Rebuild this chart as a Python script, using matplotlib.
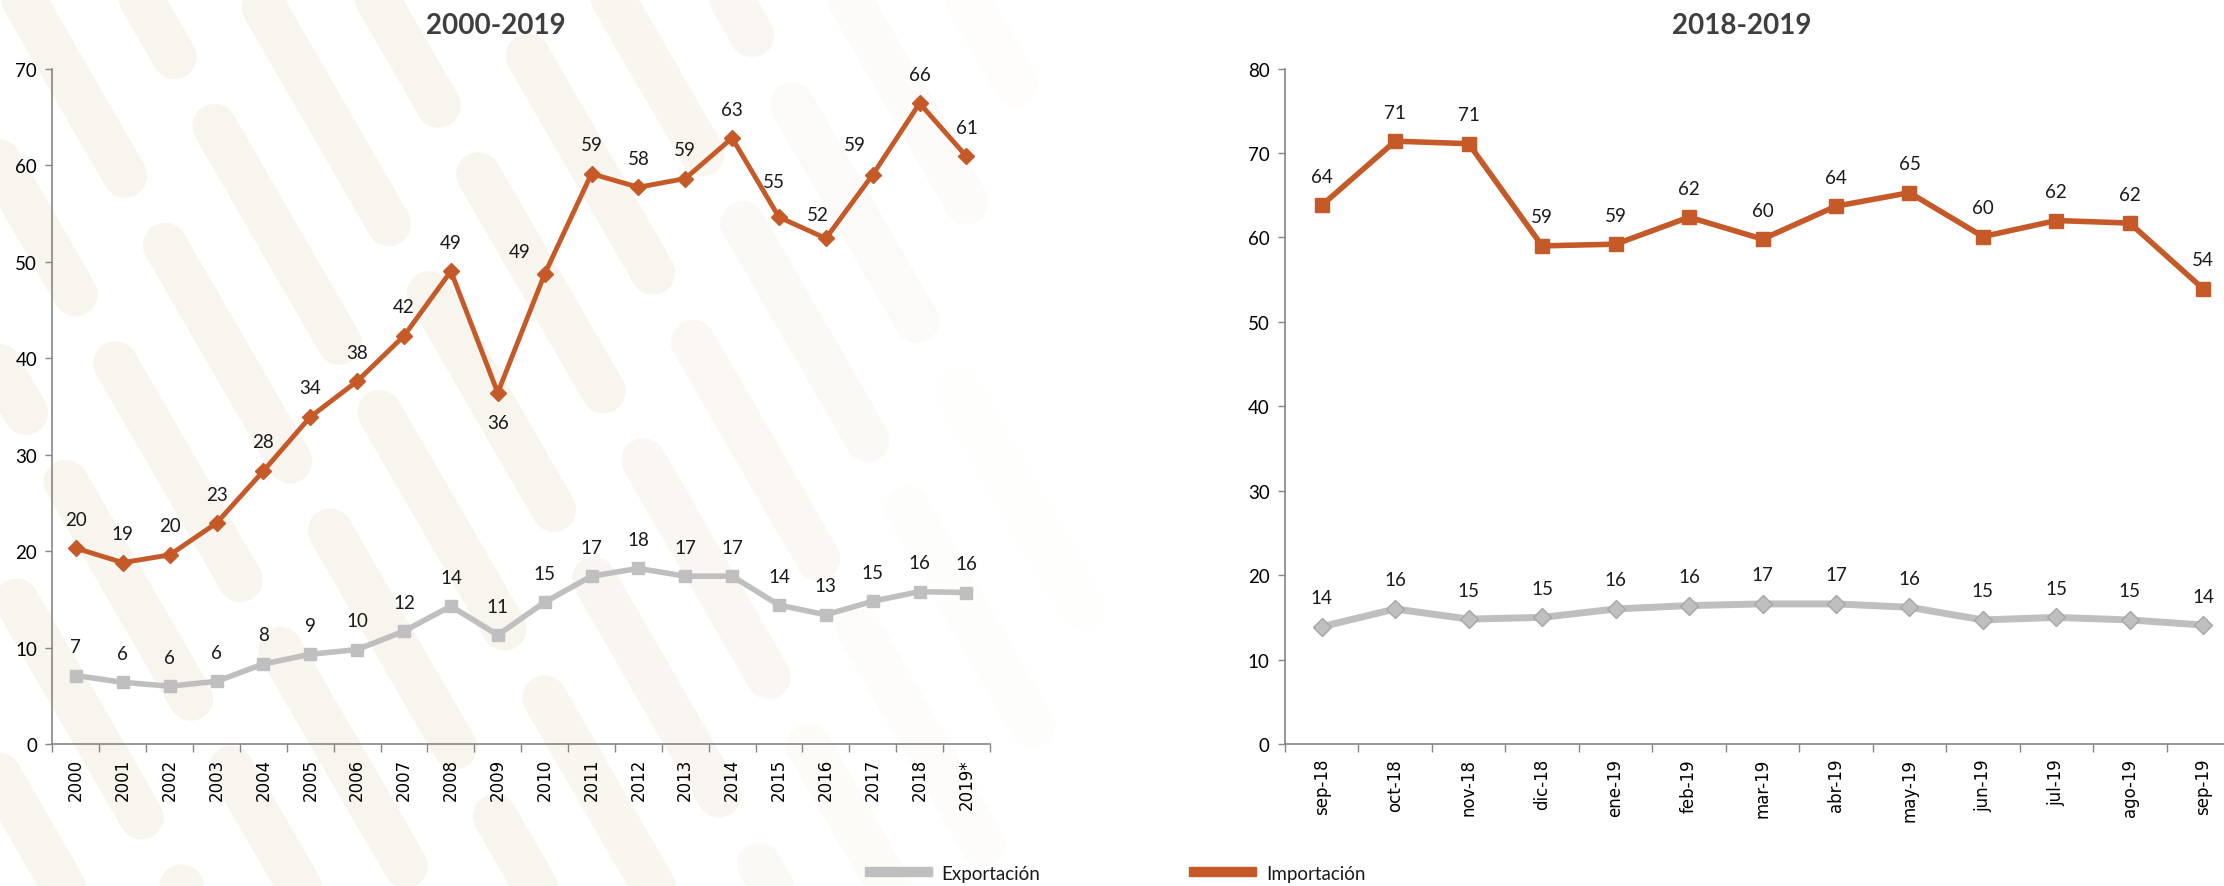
import matplotlib
matplotlib.use("Agg")
import numpy as np
import matplotlib.pyplot as plt
from matplotlib.patches import Rectangle
from matplotlib.lines import Line2D

# data
years = ["2000", "2001", "2002", "2003", "2004", "2005", "2006", "2007", "2008", "2009",
         "2010", "2011", "2012", "2013", "2014", "2015", "2016", "2017", "2018", "2019*"]
imp_years = [20.3, 18.8, 19.6, 22.9, 28.3, 33.9, 37.6, 42.3, 49.0, 36.4,
             48.7, 59.1, 57.7, 58.6, 62.8, 54.6, 52.4, 59.0, 66.4, 60.9]
exp_years = [7.1, 6.4, 6.0, 6.5, 8.3, 9.3, 9.8, 11.7, 14.3, 11.3,
             14.7, 17.4, 18.2, 17.4, 17.4, 14.4, 13.4, 14.8, 15.8, 15.7]

months = ["sep-18", "oct-18", "nov-18", "dic-18", "ene-19", "feb-19", "mar-19",
          "abr-19", "may-19", "jun-19", "jul-19", "ago-19", "sep-19"]
imp_months = [63.8, 71.4, 71.1, 59.0, 59.2, 62.4, 59.8, 63.7, 65.3, 60.1, 62.0, 61.7, 53.9]
exp_months = [13.9, 16.0, 14.8, 15.0, 16.0, 16.4, 16.6, 16.6, 16.2, 14.7, 15.0, 14.7, 14.1]

ORANGE = "#C55A28"
GREY = "#BFBFBF"
AXIS = "#868686"
BEIGE = "#F3EBDF"
LABEL_FONT = "Lato"
W, H = 2224, 887

# label offsets (pixels) that differ from the default "above" position
imp_years_offsets = {9: (0, -30), 10: (-25, 23), 15: (-5, 36), 16: (-8, 24), 17: (-18, 30)}


def style_axes(ax, cats, ymax):
    n = len(cats)
    ax.set_xlim(-0.5, n - 0.5)
    ax.set_ylim(0, ymax)
    ax.set_facecolor("none")
    for s in ["top", "right"]:
        ax.spines[s].set_visible(False)
    for s in ["left", "bottom"]:
        ax.spines[s].set_color(AXIS)
        ax.spines[s].set_linewidth(1.2)
    ax.set_xticks(range(n))
    ax.set_xticklabels(cats, rotation=90, fontsize=12, family="DejaVu Sans")
    ax.set_xticks([i + 0.5 for i in range(-1, n)], minor=True)
    ax.tick_params(axis="x", which="major", length=0, pad=10)
    ax.tick_params(axis="x", which="minor", length=6, color=AXIS, width=1)
    ax.set_yticks(range(0, ymax + 1, 10))
    ax.tick_params(axis="y", length=5, color=AXIS, width=1, pad=6)
    for lab in ax.get_yticklabels():
        lab.set_family(LABEL_FONT)
        lab.set_fontsize(13.5)


def label_points(ax, vals, offsets=None):
    offsets = offsets or {}
    for i, v in enumerate(vals):
        dx, dy = offsets.get(i, (0, 29))
        ax.annotate(f"{v:.0f}", (i, v), xytext=(dx, dy), textcoords="offset pixels",
                    ha="center", va="center", fontsize=13.5, family=LABEL_FONT,
                    color="#1a1a1a")


fig = plt.figure(figsize=(22.24, 8.87), dpi=100)

# faint background watermark: broken diagonal bands, fading to the right
ang = np.deg2rad(60)
ux, uy = np.cos(ang), np.sin(ang)
for k in range(-6, 13):
    x0 = k * 118
    phase = (k * 137) % 330
    s = -phase
    while s < 1200:
        a, b = max(s, 0), s + 250
        xa, ya = x0 + a * ux, -40 + a * uy
        xb, yb = x0 + b * ux, -40 + b * uy
        xm = (xa + xb) / 2
        alpha = 0.5 if xm < 600 else max(0.0, 0.5 - (xm - 600) / 900)
        if alpha > 0.02:
            fig.add_artist(Line2D([xa / W, xb / W], [1 - ya / H, 1 - yb / H],
                                  transform=fig.transFigure, color=BEIGE, alpha=alpha,
                                  lw=32, solid_capstyle="round", zorder=0))
        s += 330

# left chart 2000-2019
ax1 = fig.add_axes([0.0236, 0.160, 0.4215, 0.7616])
x1 = range(len(years))
ax1.plot(x1, exp_years, color=GREY, lw=4, marker="s", ms=9, mfc=GREY, mec=GREY)
ax1.plot(x1, imp_years, color=ORANGE, lw=3.5, marker="D", ms=8, mfc=ORANGE, mec=ORANGE)
style_axes(ax1, years, 70)
label_points(ax1, exp_years)
label_points(ax1, imp_years, imp_years_offsets)

# right chart 2018-2019
ax2 = fig.add_axes([0.5778, 0.160, 0.4294, 0.7616])
x2 = range(len(months))
ax2.plot(x2, exp_months, color=GREY, lw=5, marker="D", ms=9, mfc=GREY, mec="#A6A6A6")
ax2.plot(x2, imp_months, color=ORANGE, lw=4, marker="s", ms=10, mfc=ORANGE, mec=ORANGE)
style_axes(ax2, months, 80)
label_points(ax2, exp_months)
label_points(ax2, imp_months)

# titles
fig.text(496 / W, 0.971, "2000-2019", ha="center", va="center", fontsize=20,
         fontweight="bold", family=LABEL_FONT, color="#3F3F3F")
fig.text(1742 / W, 0.971, "2018-2019", ha="center", va="center", fontsize=20,
         fontweight="bold", family=LABEL_FONT, color="#3F3F3F")

# legend at the bottom
fig.patches.append(Rectangle((865 / W, 1 - 877 / H), 67 / W, 9 / H, color=GREY,
                             transform=fig.transFigure))
fig.patches.append(Rectangle((1189 / W, 1 - 877 / H), 67 / W, 9 / H, color=ORANGE,
                             transform=fig.transFigure))
fig.text(941 / W, 1 - 875 / H, "Exportación", ha="left", va="center", fontsize=13.5,
         family=LABEL_FONT, color="#1a1a1a")
fig.text(1266 / W, 1 - 875 / H, "Importación", ha="left", va="center", fontsize=13.5,
         family=LABEL_FONT, color="#1a1a1a")

fig.savefig("out.png", dpi=100, facecolor="white")
